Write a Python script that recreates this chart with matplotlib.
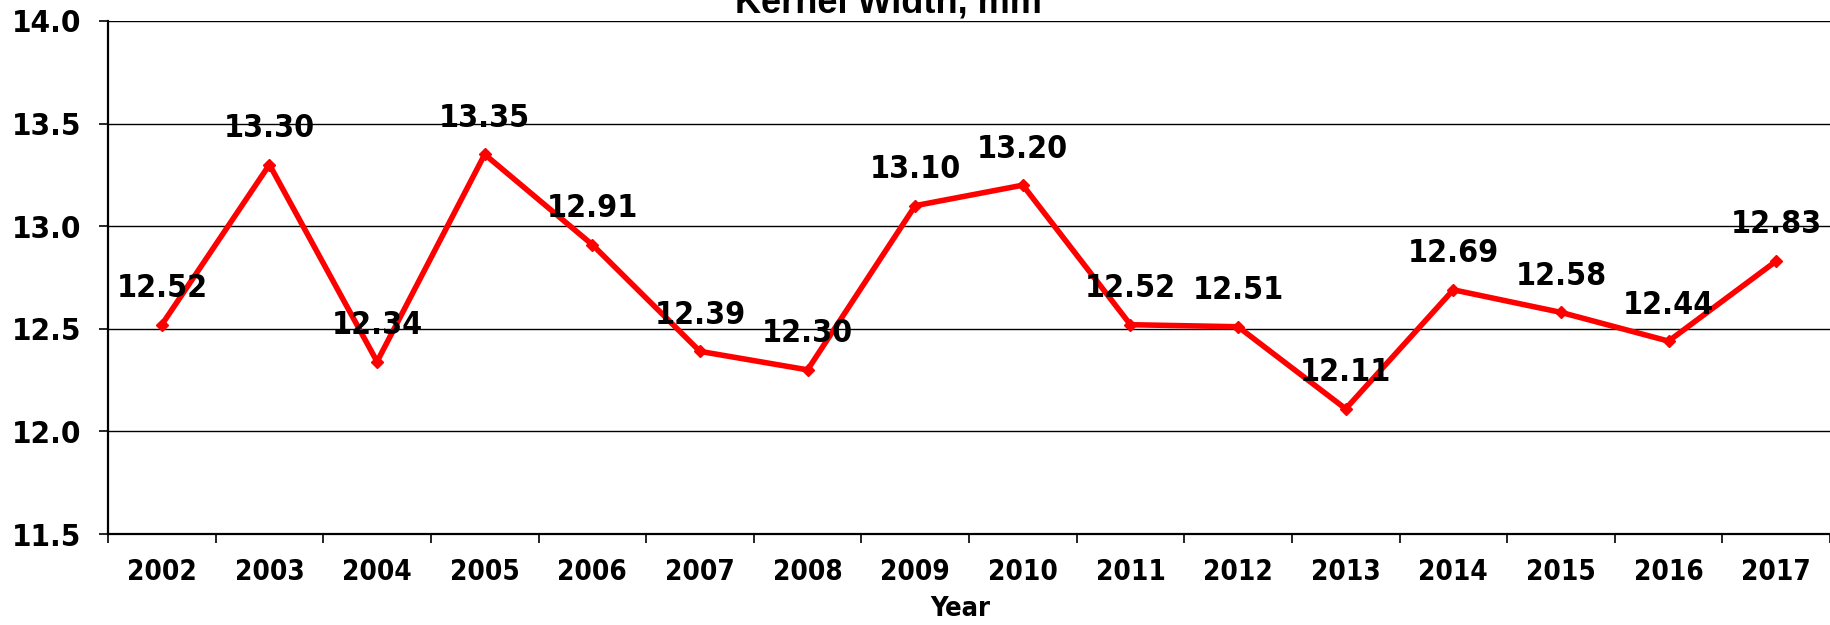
import matplotlib
matplotlib.use("Agg")
import matplotlib.pyplot as plt
import numpy as np

years = ["2002", "2003", "2004", "2005", "2006", "2007", "2008", "2009",
         "2010", "2011", "2012", "2013", "2014", "2015", "2016", "2017"]
kernel_width = [12.52, 13.30, 12.34, 13.35, 12.91, 12.39, 12.30, 13.10,
                13.20, 12.52, 12.51, 12.11, 12.69, 12.58, 12.44, 12.83]
y_ticks = [11.5, 12.0, 12.5, 13.0, 13.5, 14.0]

W, H = 1831, 625
fig = plt.figure(figsize=(W / 100, H / 100), dpi=100)
ax = fig.add_axes([108 / W, (H - 534) / H, (1830 - 108) / W, (534 - 21) / H])

FONT = dict(family="DejaVu Sans", fontweight="bold", fontstretch="condensed")

x = np.arange(len(years))
ax.plot(x, kernel_width, color="#ff0000", lw=4.0, marker="D", markersize=6.5,
        solid_joinstyle="miter", zorder=3, clip_on=False)

for xi, v in zip(x, kernel_width):
    ax.annotate(f"{v:.2f}", (xi, v), xytext=(0, 26), textcoords="offset points",
                ha="center", va="center", fontsize=23, color="black", zorder=4, **FONT)

ax.set_xlim(-0.5, len(years) - 0.5)
ax.set_ylim(11.5, 14.0)
ax.set_yticks(y_ticks)
ax.set_yticklabels([f"{t:.1f}" for t in y_ticks])
ax.set_xticks(x)
ax.set_xticklabels(years)
ax.set_xticks(np.arange(-0.5, len(years), 1.0), minor=True)

ax.tick_params(axis="x", which="major", length=0, pad=17, labelsize=20)
ax.tick_params(axis="x", which="minor", length=6.5, width=1.2, direction="out")
ax.tick_params(axis="y", which="major", length=6.5, width=1.2, pad=13, labelsize=22.5)
for lab in ax.get_xticklabels() + ax.get_yticklabels():
    lab.set_fontweight("bold")
    lab.set_family("DejaVu Sans")
    lab.set_fontstretch("condensed")

ax.yaxis.grid(True, color="black", lw=1.0)
ax.set_axisbelow(True)
for s in ["top", "right"]:
    ax.spines[s].set_visible(False)
for s in ["left", "bottom"]:
    ax.spines[s].set_linewidth(1.6)

ax.set_xlabel("Year", fontsize=19.5, **FONT)
ax.xaxis.set_label_coords((960 - 108) / (1830 - 108), -0.12)

fig.text(888 / W, 1 - 13 / H, "Kernel Width, mm", ha="center", va="baseline",
         fontsize=26, fontweight="bold", family="Liberation Sans")

fig.savefig("out.png", dpi=100)
